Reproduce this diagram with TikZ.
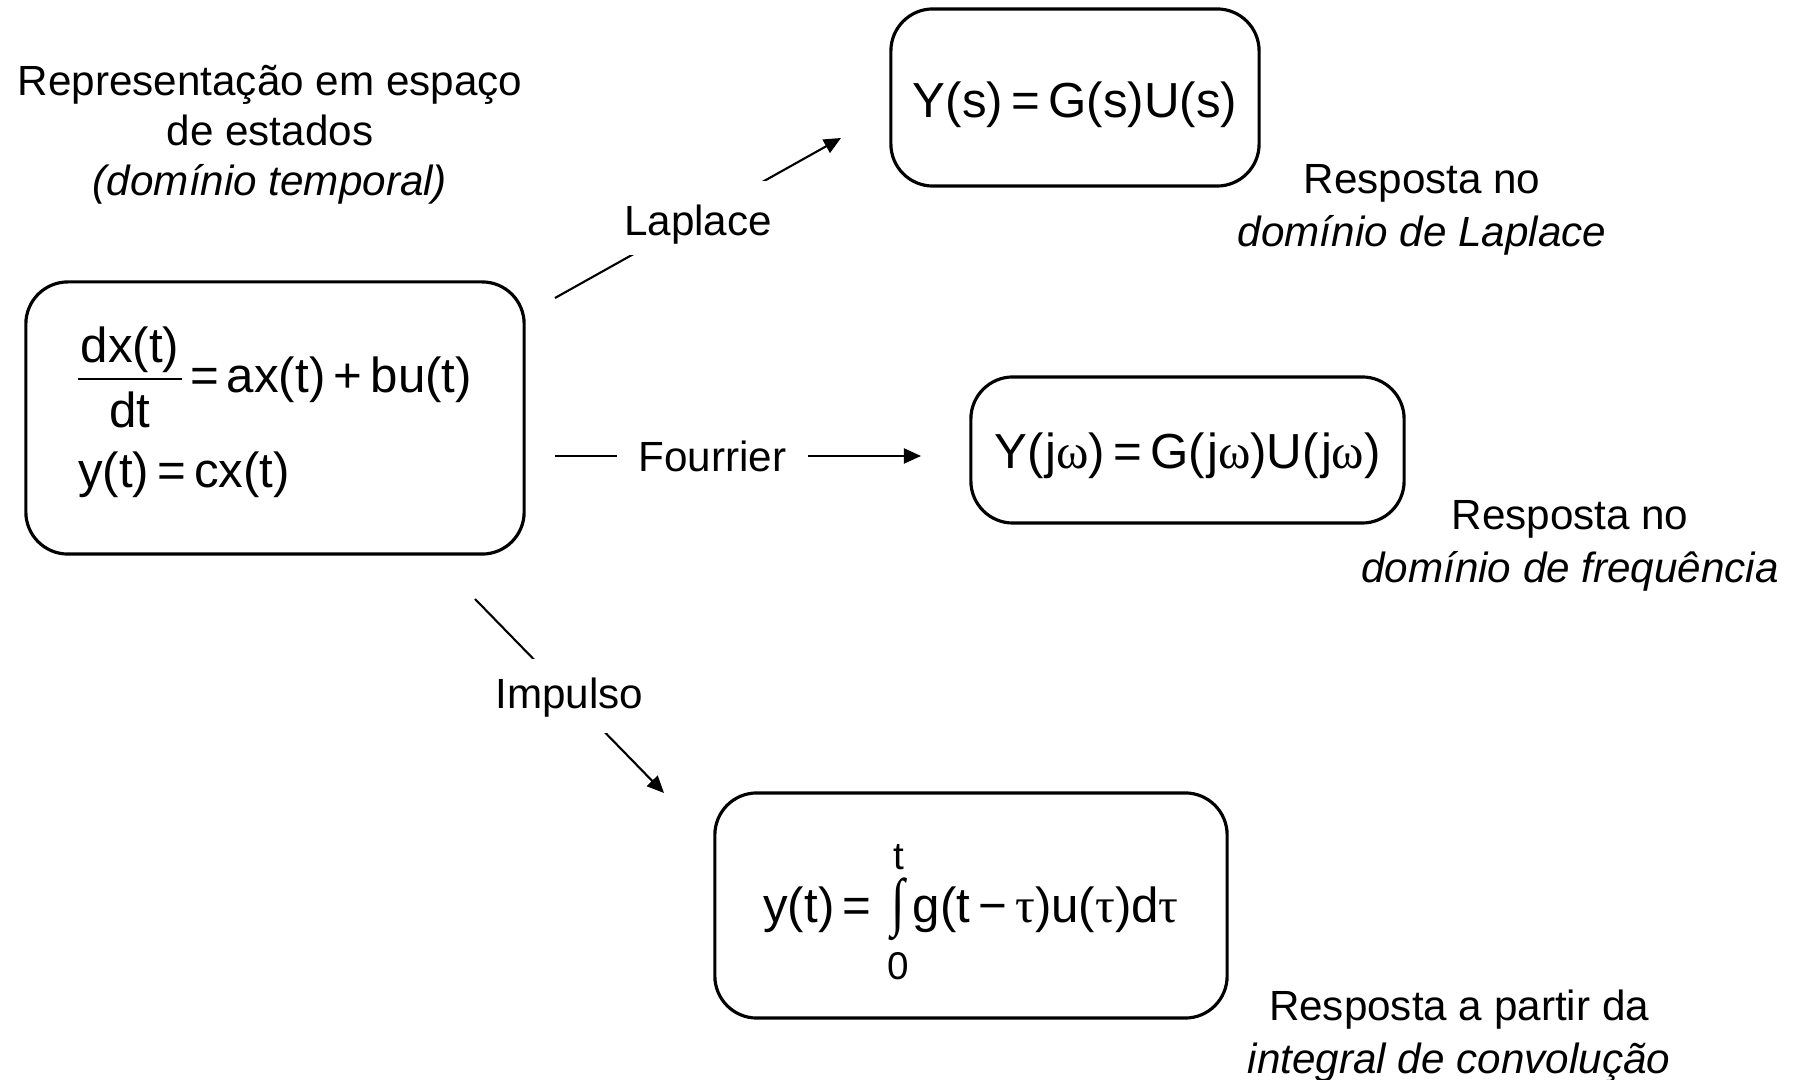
\documentclass[tikz,border=0pt]{standalone}
\usepackage{fontspec}
\usepackage{graphicx}
\setmainfont{Liberation Sans}
\newfontfamily\symfont{Liberation Serif}
\usetikzlibrary{arrows.meta}

\newcommand\lblfont{\fontsize{12}{14.2}\selectfont}
\newcommand\respfont{\fontsize{12}{15}\selectfont}
\newcommand\eqfont{\fontsize{14}{17}\selectfont}
\newcommand\limfont{\fontsize{11}{13}\selectfont}
\newcommand\gr[1]{{\symfont #1}}
% fraction with its bar 3.7pt above the baseline
\newsavebox\fracnum
\newsavebox\fracden
\newlength\fracwd
\newcommand\eqfrac[2]{%
  \sbox\fracnum{#1}\sbox\fracden{#2}%
  \setlength\fracwd{\wd\fracnum}%
  \ifdim\wd\fracden>\fracwd \setlength\fracwd{\wd\fracden}\fi
  \addtolength\fracwd{1.5pt}%
  \raisebox{3.7pt}{\rlap{\raisebox{4.8pt}{\makebox[\fracwd]{\usebox\fracnum}}}%
    \rlap{\rule[-0.25pt]{\fracwd}{0.5pt}}%
    \raisebox{-13.9pt}{\makebox[\fracwd]{\usebox\fracden}}}}
% integral with limits t and 0 (kept out of the line height)
\newcommand\eqint{\ooalign{\hfil\smash{\raisebox{14.9pt}{\limfont t}}\hfil\cr
  \hfil\smash{\raisebox{-16.3pt}{\limfont 0}}\hfil\cr
  \hfil\smash{$\vcenter{\hbox{\scalebox{1}[1.3]{\gr{∫}}}}$}\hfil\cr}}

\begin{document}
\begin{tikzpicture}[x=0.01cm, y=-0.01cm,
  eqbox/.style={draw, line width=0.9pt, rounded corners=0.42cm, font=\eqfont},
  resp/.style={align=center, font=\respfont, inner sep=0pt},
  cutlabel/.style={fill=white, inner xsep=0.22cm, inner ysep=0.17cm, font=\lblfont},
  conn/.style={line width=0.6pt, -{Triangle[length=0.17cm, width=0.15cm]}}]
\useasboundingbox (0,0) rectangle (1802,1080);
% Boxes
\node[eqbox, minimum width=4.98cm, minimum height=2.72cm, align=left] (state) at (275,418)
  {\eqfrac{dx(t)}{dt}\,=\,ax(t)\,+\,bu(t)\\[5.6pt] y(t)\,=\,cx(t)\rule[-6.3pt]{0pt}{6.3pt}};
\node[eqbox, minimum width=3.68cm, minimum height=1.77cm] (lap) at (1075,97.5)
  {\rule{0pt}{14.2pt}Y(s)\,=\,G(s)U(s)};
\node[eqbox, minimum width=4.33cm, minimum height=1.46cm] (fou) at (1187.5,450)
  {\rule{0pt}{13.6pt}Y(\kern0.6pt j\gr{ω})\,=\,G(\kern0.6pt j\gr{ω})U(\kern0.6pt j\gr{ω})};
\node[eqbox, minimum width=5.12cm, minimum height=2.25cm] (conv) at (971,905.5)
  {\rule[-3.4pt]{0pt}{16.4pt}y(t)\,=\,\,\eqint\kern1pt g(t\,−\,\gr{τ})u(\gr{τ})d\gr{τ}};
% Texts
\node[resp, font=\lblfont] (tempo) at (270,135) {Representação em espaço\\de estados\\\textit{(domínio temporal)}};
\node[resp] (rlap) at (1422,210) {Resposta no\\\textit{domínio de Laplace}};
\node[resp] (rfou) at (1570,546) {Resposta no\\\textit{domínio de frequência}};
\node[resp] (rconv) at (1459,1036) {Resposta a partir da\\\textit{integral de convolução}};
% Arrows
\coordinate (lapA) at (555,298);
\coordinate (lapB) at (841,138);
\draw[conn] (lapA) -- node[cutlabel, text height=10.65pt, text depth=0.45pt] (tlap) {Laplace} (lapB);
\coordinate (fouA) at (555,456);
\coordinate (fouB) at (921,456);
\draw[conn] (fouA) -- node[cutlabel, pos=0.43] (tfou) {Fourrier} (fouB);
\coordinate (impA) at (475,599);
\coordinate (impB) at (664,793);
\draw[conn] (impA) -- node[cutlabel, text height=9.2pt, text depth=2.2pt] (timp) {Impulso} (impB);
\end{tikzpicture}
\end{document}
